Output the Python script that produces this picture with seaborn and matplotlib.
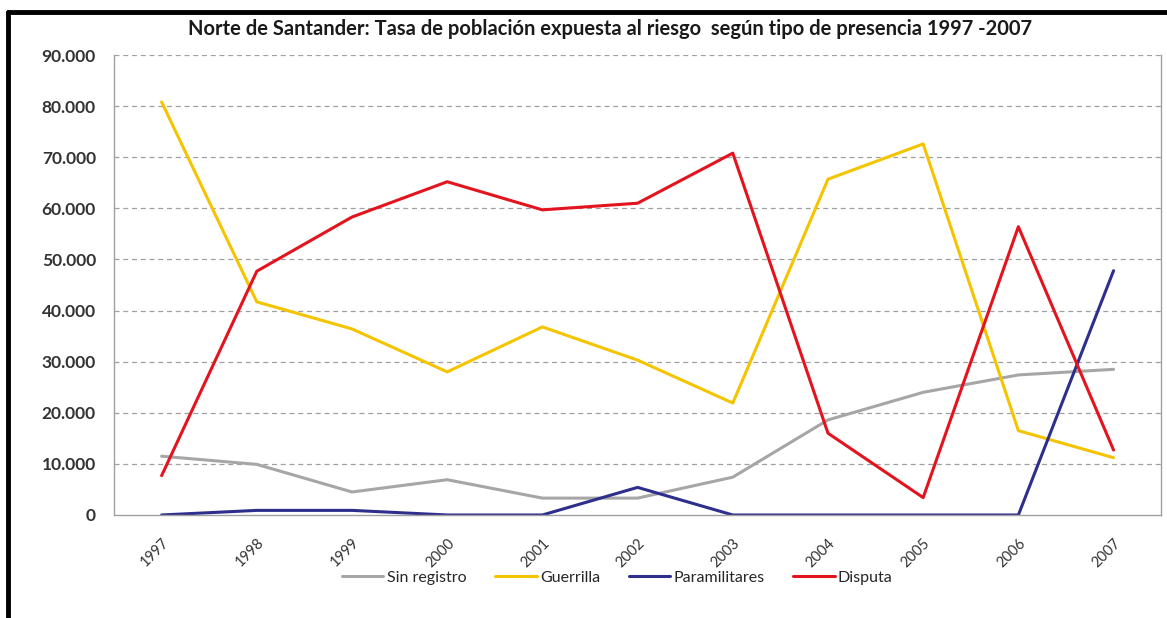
import numpy as np
import pandas as pd
import seaborn as sns
import matplotlib.pyplot as plt
from matplotlib.lines import Line2D
from matplotlib.ticker import FuncFormatter, MultipleLocator

# datos
years = [1997, 1998, 1999, 2000, 2001, 2002, 2003, 2004, 2005, 2006, 2007]
sin_registro = [11500, 9900, 4500, 6900, 3300, 3300, 7400, 18600, 24000, 27400, 28500]
guerrilla = [80800, 41700, 36400, 28000, 36800, 30300, 21900, 65700, 72600, 16500, 11200]
paramilitares = [0, 900, 900, 0, 0, 5400, 0, 0, 0, 0, 47800]
disputa = [7700, 47700, 58300, 65200, 59700, 61000, 70800, 16000, 3400, 56400, 12700]

series = ["Sin registro", "Guerrilla", "Paramilitares", "Disputa"]
colores = ["#A6A6A6", "#F5C400", "#2E2E8C", "#E3141E"]

df = pd.DataFrame({"year": years, "Sin registro": sin_registro, "Guerrilla": guerrilla,
                   "Paramilitares": paramilitares, "Disputa": disputa})
df = df.melt(id_vars="year", var_name="tipo", value_name="tasa")

sns.set_style("white")
plt.rcParams["font.family"] = ["Lato", "DejaVu Sans"]

fig = plt.figure(figsize=(11.67, 6.18), dpi=100)
ax = fig.add_axes([0.0977, 0.1667, 0.8973, 0.7443])

sns.lineplot(data=df, x="year", y="tasa", hue="tipo", hue_order=series,
             palette=colores, linewidth=2.2, ax=ax, legend=False)

ax.set_xlim(1996.5, 2007.5)
ax.set_ylim(0, 90000)
ax.yaxis.set_major_locator(MultipleLocator(10000))
ax.yaxis.set_major_formatter(FuncFormatter(lambda v, p: f"{int(v):,}".replace(",", ".")))
ax.set_xticks(years)
ax.set_xticklabels([str(y) for y in years], rotation=45, ha="right", rotation_mode="anchor")
ax.set_xticks([y + 0.5 for y in years[:-1]], minor=True)
ax.tick_params(axis="x", which="major", length=0, pad=15, labelsize=10.5, labelcolor="#333333")
ax.tick_params(axis="x", which="minor", length=5, color="#A0A0A0", direction="out")
ax.tick_params(axis="y", length=6, color="#A0A0A0", direction="out", labelsize=12.5,
               labelcolor="#333333", pad=7)
for lab in ax.get_yticklabels():
    lab.set_fontweight("bold")

for v in range(10000, 90001, 10000):
    ax.axhline(v, color="#A0A0A0", linestyle=(0, (4, 3)), linewidth=0.9, zorder=0)

ax.set_xlabel("")
ax.set_ylabel("")
for s in ["left", "bottom", "right"]:
    ax.spines[s].set_color("#A0A0A0")
    ax.spines[s].set_linewidth(1.0)
ax.spines["top"].set_visible(False)

fig.text(0.523, 0.953, "Norte de Santander: Tasa de población expuesta al riesgo  según tipo de presencia 1997 -2007",
         ha="center", va="center", fontsize=14.5, fontweight="bold", color="#1a1a1a")

handles = [Line2D([0], [0], color=c, linewidth=2.2) for c in colores]
fig.legend(handles, series, loc="center", bbox_to_anchor=(0.529, 0.065), ncol=4, frameon=False,
           fontsize=11.5, handlelength=2.6, handletextpad=0.2, columnspacing=1.8)

# marco negro del recuadro
fig.add_artist(Line2D([8 / 1167, 8 / 1167], [0, 1 - 12 / 618], color="black", linewidth=3.5,
                      transform=fig.transFigure))
fig.add_artist(Line2D([8 / 1167, 1], [1 - 12 / 618, 1 - 12 / 618], color="black", linewidth=3.5,
                      transform=fig.transFigure))

fig.savefig("out.png", dpi=100)
